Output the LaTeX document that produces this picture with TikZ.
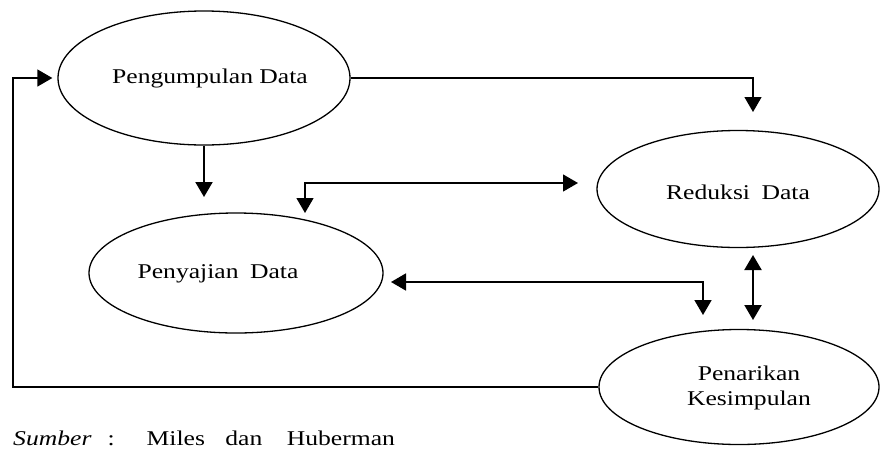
\documentclass[tikz,border=0pt]{standalone}
\usepackage{fontspec}
\setmainfont{Liberation Serif}[FakeStretch=1.22]
\usetikzlibrary{arrows.meta,shapes.geometric}
\tikzset{
  ell/.style={draw, ellipse, line width=1.3pt, inner sep=0pt},
  lbl/.style={font=\fontsize{21}{25}\selectfont, align=center, inner sep=0pt},
  thinln/.style={line width=1.3pt},
  medln/.style={line width=1.7pt},
  thickln/.style={line width=2.1pt},
  tip/.style={-{Triangle[length=15pt,width=17pt]}},
  dbl/.style={{Triangle[length=15pt,width=17pt]}-{Triangle[length=15pt,width=17pt]}},
}
\begin{document}
\begin{tikzpicture}[x=1pt,y=-1pt]
\useasboundingbox (0,0) rectangle (880,448);
% ellipses
\node[ell, minimum width=292pt, minimum height=134pt] (pd) at (204,78) {};
\node[ell, minimum width=282pt, minimum height=117pt] (rd) at (738,189) {};
\node[ell, minimum width=294pt, minimum height=120pt] (ps) at (236,273) {};
\node[ell, minimum width=280pt, minimum height=115pt] (pk) at (739,387) {};
% texts
\node[lbl] (tpd) at (210,78) {Pengumpulan Data};
\node[lbl] (trd) at (738,192) {Reduksi\hspace{5pt} Data};
\node[lbl] (tps) at (218,274) {Penyajian\hspace{5pt} Data};
\node[lbl] (tpk) at (749,388) {Penarikan\\Kesimpulan};
\node[lbl, anchor=west] (src) at (13,438) {\textit{Sumber}\hspace{16pt}:\hspace{32pt}Miles\hspace{14pt} dan\hspace{18pt} Huberman};
% coordinates
\coordinate (lt) at (13,78);
\coordinate (rc) at (753,78);
\coordinate (rt) at (753,112);
\coordinate (pdd) at (204,197);
\coordinate (a1) at (305,213);
\coordinate (a2) at (305,183);
\coordinate (a3) at (578,183);
\coordinate (b1) at (703,315);
\coordinate (b2) at (703,282);
\coordinate (b3) at (391,282);
\coordinate (c1) at (753,255);
\coordinate (c2) at (753,320);
% connectors
\draw[thinln, tip, shorten >=5pt] (pk.west) -| (lt) -- (pd.west);
\draw[thinln, tip] (pd.east) -- (rc) -- (rt);
\draw[thickln, tip] (pd.south) -- (pdd);
\draw[thinln, dbl] (a1) -- (a2) -- (a3);
\draw[medln, dbl] (b3) -- (b2) -- (b1);
\draw[thickln, dbl] (c1) -- (c2);
\end{tikzpicture}
\end{document}
